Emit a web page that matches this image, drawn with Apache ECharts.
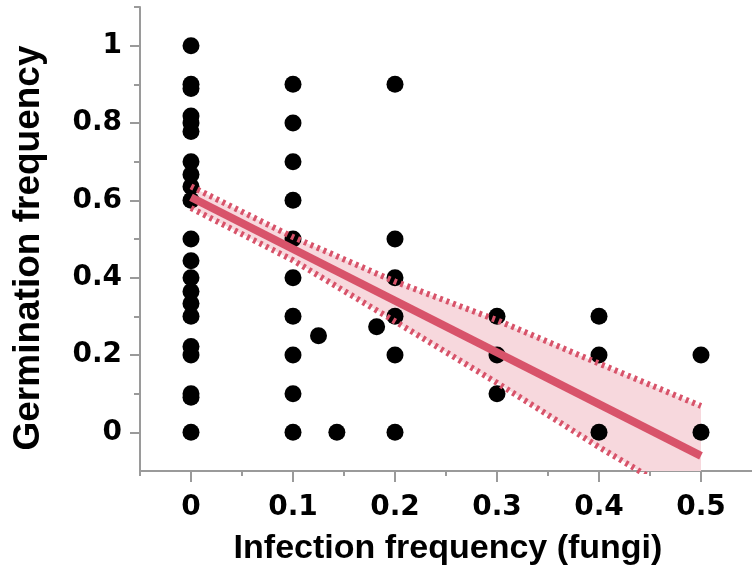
<!DOCTYPE html>
<html><head><meta charset="utf-8">
<script src="https://cdn.jsdelivr.net/npm/echarts@6/dist/echarts.min.js"></script>
<style>html,body{margin:0;padding:0;background:#fff}#c{width:752px;height:573px}</style>
</head><body><div id="c"></div>
<script>
// Observations: infection frequency (fungi) vs germination frequency
const infectionFreq = [
  0,0,0,0,0,0,0,0,0,0,0,0,0,0,0,0,0,0,0,0,0,
  0.1,0.1,0.1,0.1,0.1,0.1,0.1,0.1,0.1,0.1,
  0.125,0.143,0.182,
  0.2,0.2,0.2,0.2,0.2,0.2,
  0.3,0.3,0.3,
  0.4,0.4,0.4,
  0.5,0.5
];
const germinationFreq = [
  1.0,0.9,0.889,0.818,0.8,0.778,0.7,0.667,0.636,0.6,0.5,0.444,0.4,0.364,0.333,0.3,0.222,0.2,0.1,0.091,0,
  0.9,0.8,0.7,0.6,0.5,0.4,0.3,0.2,0.1,0,
  0.25,0,0.273,
  0.9,0.5,0.4,0.3,0.2,0,
  0.3,0.2,0.1,
  0.3,0.2,0,
  0.2,0
];
// Fitted line and confidence band
const fitX = [0, 0.5];
const fitY = [0.608, -0.061];
const bandX = [0, 0.1, 0.2, 0.3, 0.4, 0.5];
const bandUpper = [0.636, 0.505, 0.39, 0.29, 0.178, 0.068];
const bandLower = [0.58, 0.445, 0.287, 0.128, -0.038, -0.195];
// Tick values
const xTicks = [0, 0.1, 0.2, 0.3, 0.4, 0.5];
const xMinorTicks = [-0.05, 0.05, 0.15, 0.25, 0.35, 0.45];
const yTicks = [0, 0.2, 0.4, 0.6, 0.8, 1];
const yMinorTicks = [0.1, 0.3, 0.5, 0.7, 0.9, 1.1];

const RED = '#d8536a';
const FILL = '#f7d8dd';
const AXIS = '#9a9a9a';
const tickFont = {fontFamily:'DejaVu Sans', fontWeight:'bold', fontSize:28, color:'#000'};

const chart = echarts.init(document.getElementById('c'), null, {renderer:'canvas'});
const grid = {left:140, top:7, width:616, height:464};
const xBase = {type:'value', min:-0.05, max:0.55, splitLine:{show:false}};
const yBase = {type:'value', min:-0.1, max:1.1, splitLine:{show:false}};

chart.setOption({
  animation:false,
  backgroundColor:'#fff',
  grid: grid,
  xAxis: [
    Object.assign({}, xBase, {
      axisLine:{show:true, onZero:false, lineStyle:{color:AXIS, width:2}},
      axisTick:{show:true, customValues:xTicks, length:11, lineStyle:{color:AXIS, width:2}},
      axisLabel:{show:true, customValues:xTicks, margin:23, lineHeight:28, formatter:v=>String(v), ...tickFont}
    }),
    Object.assign({}, xBase, {
      position:'bottom',
      axisLine:{show:false, onZero:false},
      axisTick:{show:true, customValues:xMinorTicks, length:5, lineStyle:{color:AXIS, width:2}},
      axisLabel:{show:false}
    })
  ],
  yAxis: [
    Object.assign({}, yBase, {
      axisLine:{show:true, onZero:false, lineStyle:{color:AXIS, width:2}},
      axisTick:{show:true, customValues:yTicks, length:10, lineStyle:{color:AXIS, width:2}},
      axisLabel:{show:true, customValues:yTicks, margin:18, formatter:v=>String(v), ...tickFont}
    }),
    Object.assign({}, yBase, {
      position:'left',
      axisLine:{show:false, onZero:false},
      axisTick:{show:true, customValues:yMinorTicks, length:6, lineStyle:{color:AXIS, width:2}},
      axisLabel:{show:false}
    })
  ],
  graphic: [
    {type:'text', x:448, y:549, z:10,
     style:{text:'Infection frequency (fungi)', font:'bold 34px "Liberation Sans"', fill:'#000', align:'center', verticalAlign:'middle'}},
    {type:'text', x:29, y:248, rotation:Math.PI/2, z:10,
     style:{text:'Germination frequency', font:'bold 37px "Liberation Sans"', fill:'#000', align:'center', verticalAlign:'middle'}}
  ],
  series: [
    {
      type:'custom', z:1, clip:true, silent:true,
      data:[0],
      renderItem:function(params, api){
        const pts = [];
        for (let i=0;i<bandX.length;i++) pts.push(api.coord([bandX[i], bandUpper[i]]));
        for (let i=bandX.length-1;i>=0;i--) pts.push(api.coord([bandX[i], bandLower[i]]));
        return {type:'polygon', shape:{points:pts}, style:{fill:FILL}};
      }
    },
    {
      type:'scatter', z:2, symbol:'circle', symbolSize:17,
      itemStyle:{color:'#000', opacity:1},
      data: infectionFreq.map((x,i)=>[x, germinationFreq[i]])
    },
    {
      type:'line', z:3, symbol:'none', clip:true,
      lineStyle:{color:RED, width:6, type:[3,4], cap:'butt'},
      data: bandX.map((x,i)=>[x, bandUpper[i]])
    },
    {
      type:'line', z:3, symbol:'none', clip:true,
      lineStyle:{color:RED, width:6, type:[3,4], cap:'butt'},
      data: bandX.map((x,i)=>[x, bandLower[i]])
    },
    {
      type:'line', z:4, symbol:'none', clip:true,
      lineStyle:{color:RED, width:8, cap:'butt'},
      data: fitX.map((x,i)=>[x, fitY[i]])
    }
  ]
});
</script>
</body></html>
